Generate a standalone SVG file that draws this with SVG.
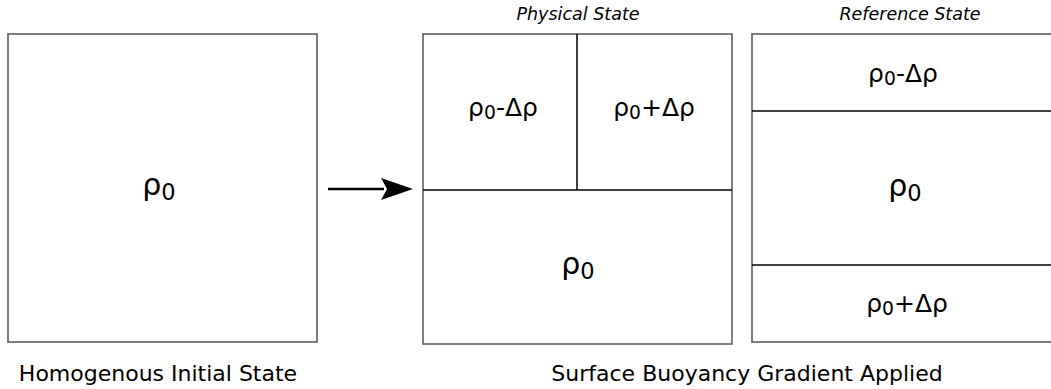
<svg xmlns="http://www.w3.org/2000/svg" width="1051" height="389" viewBox="0 0 1051 389">
<defs>
<style>
.box{fill:#fff;stroke:#555;stroke-width:1.5}
.div{stroke:#000;stroke-width:1.5;fill:none}
.t{font-family:"DejaVu Sans",sans-serif;fill:#000;text-anchor:middle}
.big{font-size:30px}
.mid{font-size:25px}
.lab{font-size:22px}
.ttl{font-size:17.5px;font-style:italic}
.sub{font-size:75%}
</style>
</defs>
<rect width="1051" height="389" fill="#fff"/>
<g id="initial">
<rect class="box" x="8" y="34" width="309" height="308"/>
<text class="t big" x="159" y="195">ρ<tspan class="sub" dy="5">0</tspan></text>
<text class="t lab" x="158" y="381">Homogenous Initial State</text>
</g>
<g id="physical">
<text class="t ttl" x="578" y="20">Physical State</text>
<rect class="box" x="423" y="34" width="309" height="310"/>
<line class="div" x1="423" y1="190" x2="732" y2="190"/>
<line class="div" x1="577" y1="34" x2="577" y2="190"/>
<text class="t mid" x="503" y="116">ρ<tspan class="sub" dy="3">0</tspan><tspan dy="-3">-Δρ</tspan></text>
<text class="t mid" x="654" y="116">ρ<tspan class="sub" dy="3">0</tspan><tspan dy="-3">+Δρ</tspan></text>
<text class="t big" x="578" y="274">ρ<tspan class="sub" dy="5">0</tspan></text>
</g>
<g id="reference">
<text class="t ttl" x="910" y="20">Reference State</text>
<rect class="box" x="752" y="34" width="305" height="308"/>
<line class="div" x1="752" y1="111" x2="1051" y2="111"/>
<line class="div" x1="752" y1="265" x2="1051" y2="265"/>
<text class="t mid" x="903" y="82">ρ<tspan class="sub" dy="3">0</tspan><tspan dy="-3">-Δρ</tspan></text>
<text class="t big" x="905" y="196">ρ<tspan class="sub" dy="5">0</tspan></text>
<text class="t mid" x="907" y="312">ρ<tspan class="sub" dy="3">0</tspan><tspan dy="-3">+Δρ</tspan></text>
</g>
<text class="t lab" x="747" y="381">Surface Buoyancy Gradient Applied</text>
<g id="connectors">
<line x1="328" y1="189" x2="384" y2="189" stroke="#000" stroke-width="2.5"/>
<path d="M381,178 L413,189 L381,200 L387,189 Z" fill="#000"/>
</g>
</svg>
